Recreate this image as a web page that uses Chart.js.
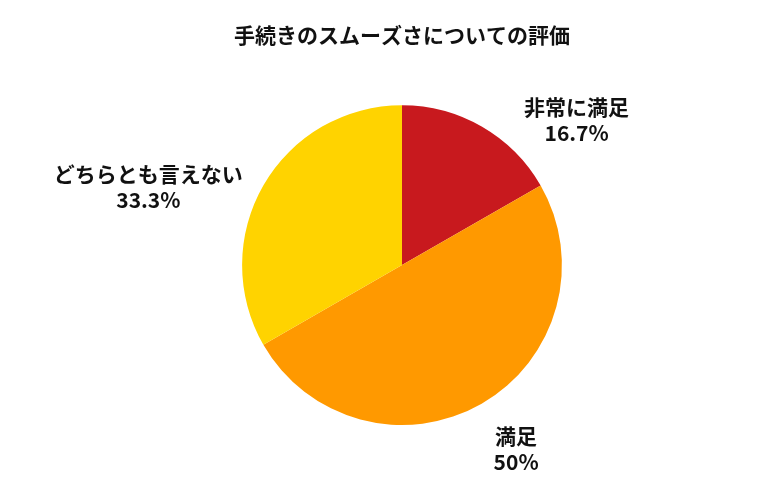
<!DOCTYPE html>
<html><head><meta charset="utf-8">
<script src="https://cdn.jsdelivr.net/npm/chart.js@4"></script>
<style>body{margin:0;background:#fff}#w{width:780px;height:500px}</style>
</head><body><div id="w"><canvas id="c"></canvas></div>
<script>
const categories = ["非常に満足", "満足", "どちらとも言えない"];
const values = [16.7, 50, 33.3];
const valueLabels = ["16.7%", "50%", "33.3%"];
const colors = ["#C8191E", "#FF9900", "#FFD300"];
const F = "'Noto Sans CJK JP','Noto Sans',sans-serif";

const outLabels = {
  id: 'outLabels',
  afterDatasetsDraw(chart) {
    const ctx = chart.ctx;
    const meta = chart.getDatasetMeta(0);
    ctx.save();
    ctx.font = "bold 21px " + F;
    ctx.fillStyle = "#111";
    ctx.textBaseline = "middle";
    meta.data.forEach((arc, i) => {
      const p = arc.getProps(['x','y','startAngle','endAngle','outerRadius'], true);
      const a = (p.startAngle + p.endAngle) / 2;
      const r = p.outerRadius * 1.15;
      const x = p.x + Math.cos(a) * r;
      const lower = Math.sin(a) > 0.3;
      const y = p.y + Math.sin(a) * r + (lower ? 24 : 14);
      const right = Math.cos(a) >= 0;
      const w = Math.max(ctx.measureText(categories[i]).width, ctx.measureText(valueLabels[i]).width);
      const cx = right ? x + (lower ? 0 : 30) + w / 2 : x - w / 2;
      ctx.textAlign = "center";
      ctx.fillText(categories[i], cx, y - 13);
      ctx.fillText(valueLabels[i], cx, y + 13);
    });
    ctx.restore();
  }
};

new Chart(document.getElementById('c'), {
  type: 'pie',
  data: { labels: categories, datasets: [{ data: values, backgroundColor: colors, borderWidth: 0 }] },
  options: {
    responsive: true, maintainAspectRatio: false, animation: false,
    layout: { padding: { top: 0, bottom: 75, left: 24 } },
    plugins: {
      legend: { display: false },
      tooltip: { enabled: false },
      title: { display: true, text: "手続きのスムーズさについての評価", color: "#111",
        font: { family: F, size: 21, weight: 'bold' }, padding: { top: 22, bottom: 58 } }
    }
  },
  plugins: [outLabels]
});
</script></body></html>
